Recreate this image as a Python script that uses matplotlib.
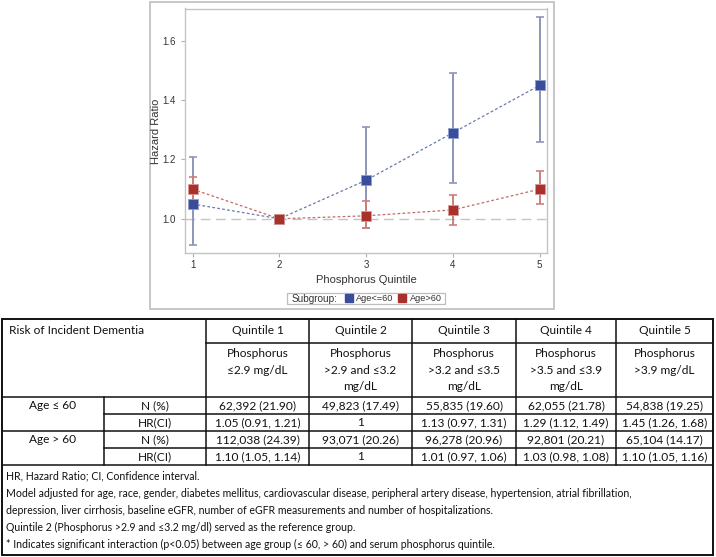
import matplotlib
matplotlib.use("Agg")
import matplotlib.pyplot as plt
from matplotlib.lines import Line2D
from matplotlib.patches import Rectangle
import numpy as np

# ---------------- data ----------------
quintiles = [1, 2, 3, 4, 5]
hr_young = [1.05, 1.00, 1.13, 1.29, 1.45]
lo_young = [0.91, 1.00, 0.97, 1.12, 1.26]
hi_young = [1.21, 1.00, 1.31, 1.49, 1.68]
hr_old = [1.10, 1.00, 1.01, 1.03, 1.10]
lo_old = [1.05, 1.00, 0.97, 0.98, 1.05]
hi_old = [1.14, 1.00, 1.06, 1.08, 1.16]
yticks = [1.0, 1.2, 1.4, 1.6]
series_labels = ["Age<=60", "Age>60"]

col_headers = ["Quintile 1", "Quintile 2", "Quintile 3", "Quintile 4", "Quintile 5"]
col_desc = ["Phosphorus\n≤2.9 mg/dL",
            "Phosphorus\n>2.9 and ≤3.2\nmg/dL",
            "Phosphorus\n>3.2 and ≤3.5\nmg/dL",
            "Phosphorus\n>3.5 and ≤3.9\nmg/dL",
            "Phosphorus\n>3.9 mg/dL"]
group_labels = ["Age ≤ 60", "Age > 60"]
stat_labels = ["N (%)", "HR(CI)"]
n_young = ["62,392 (21.90)", "49,823 (17.49)", "55,835 (19.60)", "62,055 (21.78)", "54,838 (19.25)"]
hrci_young = ["1.05 (0.91, 1.21)", "1", "1.13 (0.97, 1.31)", "1.29 (1.12, 1.49)", "1.45 (1.26, 1.68)"]
n_old = ["112,038 (24.39)", "93,071 (20.26)", "96,278 (20.96)", "92,801 (20.21)", "65,104 (14.17)"]
hrci_old = ["1.10 (1.05, 1.14)", "1", "1.01 (0.97, 1.06)", "1.03 (0.98, 1.08)", "1.10 (1.05, 1.16)"]
footnotes = [
    "HR, Hazard Ratio; CI, Confidence interval.",
    "Model adjusted for age, race, gender, diabetes mellitus, cardiovascular disease, peripheral artery disease, hypertension, atrial fibrillation,",
    "depression, liver cirrhosis, baseline eGFR, number of eGFR measurements and number of hospitalizations.",
    "Quintile 2 (Phosphorus >2.9 and ≤3.2 mg/dl) served as the reference group.",
    "* Indicates significant interaction (p<0.05) between age group (≤ 60, > 60) and serum phosphorus quintile.",
]

W, H = 716, 557
fig = plt.figure(figsize=(W / 100, H / 100), dpi=100)
fig.patch.set_facecolor("white")

def px_axes(l, t, r, b):
    return fig.add_axes([l / W, 1 - b / H, (r - l) / W, (b - t) / H])

# overlay for frames / table
ov = fig.add_axes([0, 0, 1, 1])
ov.set_xlim(0, W)
ov.set_ylim(H, 0)
ov.axis("off")
ov.add_patch(Rectangle((150, 1.5), 403.5, 307.5, fill=False, ec="#bdbdbd", lw=1.2))

# ---------------- chart ----------------
chart_font = ["Liberation Sans", "DejaVu Sans"]
ax = px_axes(184.5, 8.5, 547.5, 253.5)
ax.set_facecolor("none")
blue = "#3a4c9c"
red = "#a8312c"
blue_bar = "#8c96ba"
red_bar = "#cc7f7b"

ax.axhline(1.0, color="#c4c4c4", lw=1.0, ls=(0, (7, 4)), zorder=1)

x = np.array(quintiles)
yy = np.array(hr_young)
yo = np.array(hr_old)
ax.errorbar(x, yy, yerr=[yy - np.array(lo_young), np.array(hi_young) - yy],
            fmt="none", ecolor=blue_bar, elinewidth=1.4, capsize=3, capthick=1.2, zorder=2)
ax.errorbar(x, yo, yerr=[yo - np.array(lo_old), np.array(hi_old) - yo],
            fmt="none", ecolor=red_bar, elinewidth=1.4, capsize=3, capthick=1.2, zorder=2)
ax.plot(x, yy, color="#6a78b0", lw=0.9, ls=(0, (2.2, 1.8)), zorder=3)
ax.plot(x, yo, color="#c46a66", lw=0.9, ls=(0, (2.2, 1.8)), zorder=3)
ax.plot(x, yy, ls="none", marker="s", ms=7.5, mfc=blue, mec="#8f9ccc", mew=0.6, zorder=4)
ax.plot(x, yo, ls="none", marker="s", ms=7.5, mfc=red, mec="#d89a96", mew=0.6, zorder=5)

ax.set_xlim(0.907, 5.09)
ax.set_ylim(0.883, 1.709)
ax.set_xticks(quintiles)
ax.set_yticks(yticks)
ax.set_xticklabels([str(q) for q in quintiles], family=chart_font, fontsize=7, color="#333333")
ax.set_yticklabels([f"{v:.1f}" for v in yticks], family=chart_font, fontsize=7, color="#333333")
ax.tick_params(axis="x", length=3, width=0.8, color="#b0b0b0", pad=1.5)
ax.tick_params(axis="y", length=3, width=0.8, color="#b0b0b0", pad=3)
for s in ax.spines.values():
    s.set_color("#c4c4c4")
    s.set_linewidth(1.0)
ax.set_xlabel("Phosphorus Quintile", family=chart_font, fontsize=8, color="#333333", labelpad=4)
ax.set_ylabel("Hazard Ratio", family=chart_font, fontsize=8, color="#333333", labelpad=1.5)

# legend: frame + "Subgroup:" caption + entries
ov.add_patch(Rectangle((287, 293), 158, 11, fill=False, ec="#bdbdbd", lw=0.9))
ov.text(292, 298.8, "Subgroup:", ha="left", va="center", family=chart_font,
        fontsize=7.2, color="#333333")
handles = [Line2D([], [], ls="none", marker="s", ms=5.6, mfc=blue, mec=blue),
           Line2D([], [], ls="none", marker="s", ms=5.6, mfc=red, mec=red)]
leg = fig.legend(handles, series_labels, ncol=2,
                 loc="center left", bbox_to_anchor=(345 / W, 1 - 298.5 / H),
                 prop={"family": chart_font, "size": 6.6}, frameon=False,
                 handlelength=0.8, handletextpad=0.45,
                 columnspacing=0.5, borderpad=0, borderaxespad=0)
for t in leg.get_texts():
    t.set_color("#333333")

# ---------------- table ----------------
tfont = ["Lato", "DejaVu Sans"]
tfs = 8.6
ffs = 7.6
cols = [2, 104, 206, 309, 412, 516, 616, 713]
rows = [319, 343, 397, 414, 431, 448, 465, 555]
lc = "#111111"
lw = 1.1

def hline(y, x0, x1):
    ov.plot([x0, x1], [y, y], color=lc, lw=lw, solid_capstyle="projecting")

def vline(xx, y0, y1):
    ov.plot([xx, xx], [y0, y1], color=lc, lw=lw, solid_capstyle="projecting")

ov.add_patch(Rectangle((cols[0], rows[0]), cols[-1] - cols[0], rows[-1] - rows[0],
                       fill=False, ec=lc, lw=1.4))
hline(rows[1], cols[2], cols[-1])
hline(rows[2], cols[0], cols[-1])
hline(rows[3], cols[1], cols[-1])
hline(rows[4], cols[0], cols[-1])
hline(rows[5], cols[1], cols[-1])
hline(rows[6], cols[0], cols[-1])
vline(cols[1], rows[2], rows[6])
for c in cols[2:-1]:
    vline(c, rows[0], rows[6])

def ctext(xc, yc, s, **kw):
    ov.text(xc, yc, s, ha="center", va="center", family=tfont, fontsize=tfs,
            color="#111111", **kw)

ov.text(9, (rows[0] + rows[1]) / 2, "Risk of Incident Dementia", ha="left", va="center",
        family=tfont, fontsize=tfs, color="#111111")
for i in range(5):
    xc = (cols[2 + i] + cols[3 + i]) / 2
    ctext(xc, (rows[0] + rows[1]) / 2, col_headers[i])
    ov.text(xc, rows[1] + 5, col_desc[i], ha="center", va="top", family=tfont,
            fontsize=tfs, color="#111111", linespacing=1.62)

ctext((cols[0] + cols[1]) / 2, (rows[2] + rows[3]) / 2, group_labels[0])
ctext((cols[0] + cols[1]) / 2, (rows[4] + rows[5]) / 2, group_labels[1])
for r, s in zip(range(2, 6), stat_labels * 2):
    ctext((cols[1] + cols[2]) / 2, (rows[r] + rows[r + 1]) / 2, s)
for r, vals in zip(range(2, 6), [n_young, hrci_young, n_old, hrci_old]):
    for i, v in enumerate(vals):
        ctext((cols[2 + i] + cols[3 + i]) / 2, (rows[r] + rows[r + 1]) / 2, v)

for k, line in enumerate(footnotes):
    ov.text(6, 476 + k * 17.2, line, ha="left", va="center", family=tfont,
            fontsize=ffs, color="#111111")

fig.savefig("out.png", dpi=100)
